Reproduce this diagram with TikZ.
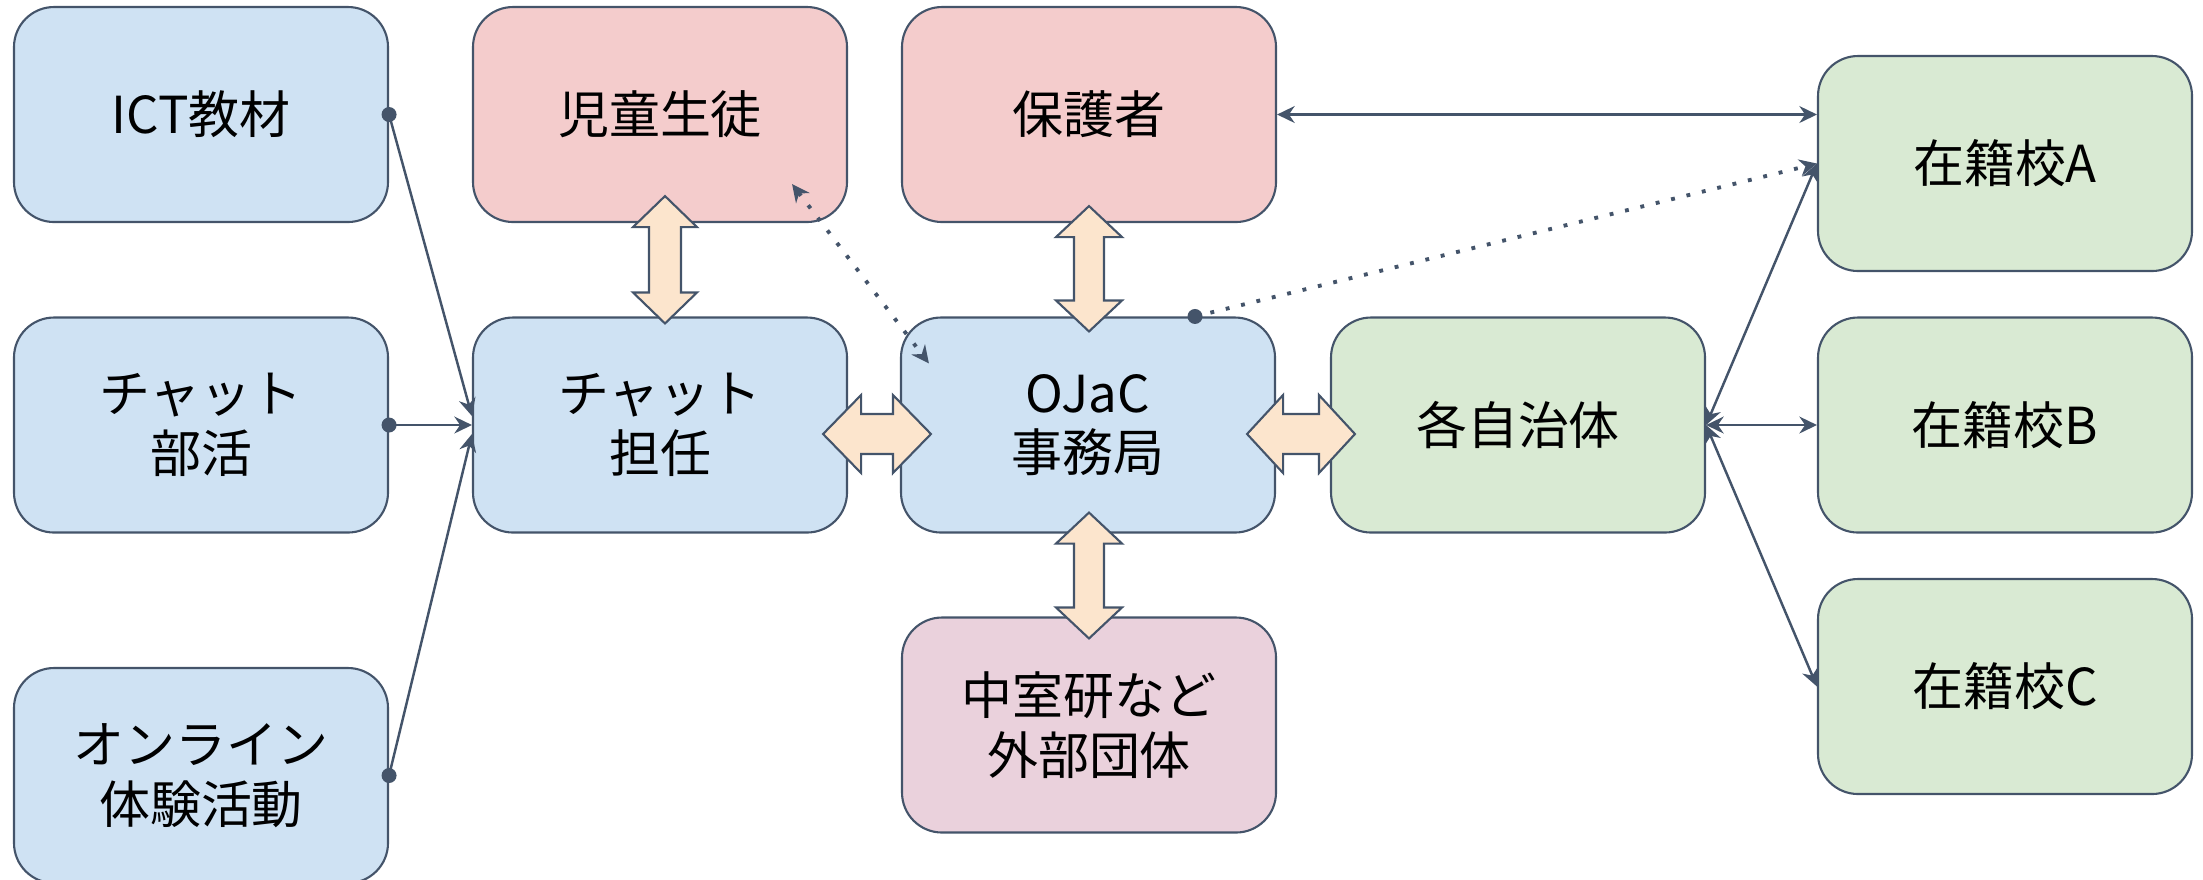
\documentclass[tikz,border=0pt]{standalone}
\usepackage{fontspec}
\setmainfont{Noto Sans CJK JP}
\usetikzlibrary{arrows.meta,positioning,calc}

\definecolor{boxline}{HTML}{44546A}
\definecolor{bluefill}{HTML}{CFE2F3}
\definecolor{redfill}{HTML}{F4CCCC}
\definecolor{greenfill}{HTML}{D9EAD3}
\definecolor{plumfill}{HTML}{EAD1DC}
\definecolor{peachfill}{HTML}{FCE5CD}

% fat two-headed arrow: tips #1 and #2, half head width #3, half shaft width #4, head length #5
\newcommand{\fatarrow}[5]{%
  \path (#1) coordinate (fa1) (#2) coordinate (fa2);
  \path ($(fa1)!#5!(fa2)$) coordinate (fa3) ($(fa2)!#5!(fa1)$) coordinate (fa4);
  \draw[fat] (fa1) -- ($(fa3)!#3!90:(fa2)$) -- ($(fa3)!#4!90:(fa2)$)
    -- ($(fa4)!#4!-90:(fa1)$) -- ($(fa4)!#3!-90:(fa1)$) -- (fa2)
    -- ($(fa4)!#3!90:(fa1)$) -- ($(fa4)!#4!90:(fa1)$)
    -- ($(fa3)!#4!-90:(fa2)$) -- ($(fa3)!#3!-90:(fa2)$) -- cycle;}

\begin{document}
\begin{tikzpicture}[>={Stealth[length=5pt,width=4.8pt]},
      box/.style={rectangle,rounded corners=0.4cm,draw=boxline,line width=0.6pt,
        minimum width=3.74cm,minimum height=2.15cm,align=center,
        font=\fontsize{14.5}{17}\selectfont},
      bluebox/.style={box,fill=bluefill},
      redbox/.style={box,fill=redfill},
      greenbox/.style={box,fill=greenfill},
      plumbox/.style={box,fill=plumfill},
      link/.style={draw=boxline,line width=0.7pt},
      dotlink/.style={draw=boxline,line width=1.1pt,dash pattern=on 1.1pt off 3.4pt},
      fat/.style={draw=boxline,fill=peachfill,line width=0.6pt,line join=miter}]
      \useasboundingbox (0,0) rectangle (22.03,-8.79);
      % left column
      \node[bluebox]  at (2.01,-1.145)  (ict) {ICT教材};
      \node[bluebox]  at (2.01,-4.25)   (bukatsu) {チャット\\部活};
      \node[bluebox]  at (2.01,-7.755)  (online) {オンライン\\体験活動};
      % middle
      \node[redbox]   at (6.60,-1.145)  (jido) {児童生徒};
      \node[bluebox]  at (6.60,-4.25)   (tannin) {チャット\\担任};
      \node[redbox]   at (10.89,-1.145) (hogosha) {保護者};
      \node[bluebox]  at (10.88,-4.25)  (ojac) {OJaC\\事務局};
      \node[plumbox]  at (10.89,-7.25)  (gaibu) {中室研など\\外部団体};
      \node[greenbox] at (15.18,-4.25)  (jichitai) {各自治体};
      % schools
      \node[greenbox] at (20.05,-1.635) (zaisekiA) {在籍校A};
      \node[greenbox] at (20.05,-4.25)  (zaisekiB) {在籍校B};
      \node[greenbox] at (20.05,-6.865) (zaisekiC) {在籍校C};

      \draw[link,->] (ict.east) -- ($(tannin.west)+(0,0.09)$);
      \draw[link,->] (bukatsu.east) -- (tannin.west);
      \draw[link,->] (online.east) -- ($(tannin.west)+(0,-0.09)$);
      \fill[boxline] (ict.east) circle (0.075);
      \fill[boxline] (bukatsu.east) circle (0.075);
      \fill[boxline] (online.east) circle (0.075);

      \draw[link,<->] (hogosha.east) -- (hogosha.east -| zaisekiA.west);
      \draw[link,<->] (jichitai.east) -- (zaisekiA.west);
      \draw[link,<->] (jichitai.east) -- (zaisekiB.west);
      \draw[link,<->] (jichitai.east) -- (zaisekiC.west);

      \coordinate (ojtop) at ($(ojac.north)+(1.07,0)$);
      \draw[dotlink,->] (ojtop) -- (zaisekiA.west);
      \fill[boxline] (ojtop) circle (0.075);
      \draw[dotlink,<->] ($(jido.south east)+(-0.56,0.39)$) -- ($(ojac.north west)+(0.29,-0.47)$);

      \fatarrow{$(jido.south)+(0.05,0.27)$}{$(tannin.north)+(0.05,-0.07)$}{0.32cm}{0.16cm}{0.31cm}
      \fatarrow{$(hogosha.south)+(0,0.17)$}{$(ojac.north)+(0.01,-0.15)$}{0.33cm}{0.15cm}{0.31cm}
      \fatarrow{$(ojac.south)+(0.01,0.21)$}{$(gaibu.north)+(0,-0.22)$}{0.33cm}{0.15cm}{0.31cm}
      \fatarrow{$(tannin.east)+(-0.25,-0.09)$}{$(ojac.west)+(0.31,-0.09)$}{0.39cm}{0.20cm}{0.38cm}
      \fatarrow{$(ojac.east)+(-0.29,-0.09)$}{$(jichitai.west)+(0.25,-0.09)$}{0.39cm}{0.20cm}{0.36cm}
\end{tikzpicture}
\end{document}
